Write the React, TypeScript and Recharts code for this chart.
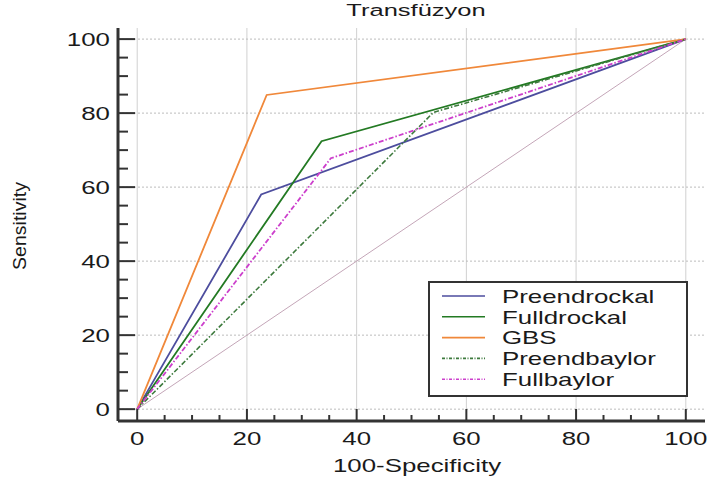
import React from 'react';
import { LineChart, Line, XAxis, YAxis, ReferenceLine } from 'recharts';

// ROC curves: x = 100-Specificity, y = Sensitivity
const seriesNames = ['Preendrockal', 'Fulldrockal', 'GBS', 'Preendbaylor', 'Fullbaylor'];
const preendrockalX = [0, 22.6, 100];
const preendrockalY = [0, 58, 100];
const fulldrockalX = [0, 33.6, 100];
const fulldrockalY = [0, 72.4, 100];
const gbsX = [0, 23.6, 100];
const gbsY = [0, 84.9, 100];
const preendbaylorX = [0, 54, 100];
const preendbaylorY = [0, 80.2, 100];
const fullbaylorX = [0, 35.3, 100];
const fullbaylorY = [0, 67.8, 100];
const diagonalX = [0, 100];
const diagonalY = [0, 100];

const axisTicks = [0, 5, 10, 15, 20, 25, 30, 35, 40, 45, 50, 55, 60, 65, 70, 75, 80, 85, 90, 95, 100];
const gridValues = [0, 20, 40, 60, 80, 100];

const toPoints = (xs: number[], ys: number[]) => xs.map((x, i) => ({ x, y: ys[i] }));

const SERIES = [
  { name: seriesNames[0], data: toPoints(preendrockalX, preendrockalY), color: '#4d4d9e', dash: undefined, width: 1.8 },
  { name: seriesNames[1], data: toPoints(fulldrockalX, fulldrockalY), color: '#237a23', dash: undefined, width: 1.8 },
  { name: seriesNames[2], data: toPoints(gbsX, gbsY), color: '#f0883a', dash: undefined, width: 1.8 },
  { name: seriesNames[3], data: toPoints(preendbaylorX, preendbaylorY), color: '#3d7a3d', dash: '5 2 1.5 2', width: 1.6 },
  { name: seriesNames[4], data: toPoints(fullbaylorX, fullbaylorY), color: '#cc3fcc', dash: '5 2 1.5 2', width: 1.8 },
];

const FONT = '"Liberation Sans", Arial, sans-serif';
const STRETCH = 1.39;

const XTick = (props: any) => {
  const { x, y, payload } = props;
  const major = payload.value % 20 === 0;
  return (
    <g>
      <line x1={x} x2={x} y1={y} y2={y - (major ? 12 : 6)} stroke="#333" strokeWidth={2} />
      {major && (
        <text
          transform={`translate(${x},${y + 24}) scale(${STRETCH},1)`}
          textAnchor="middle"
          fontFamily={FONT}
          fontSize={18.6}
          fill="#1a1a1a"
        >
          {payload.value}
        </text>
      )}
    </g>
  );
};

const YTick = (props: any) => {
  const { x, y, payload } = props;
  const major = payload.value % 20 === 0;
  return (
    <g>
      <line x1={x} x2={x + (major ? 17 : 10)} y1={y} y2={y} stroke="#333" strokeWidth={2} />
      {major && (
        <text
          transform={`translate(${x - 8},${y + 6.6}) scale(${STRETCH},1)`}
          textAnchor="end"
          fontFamily={FONT}
          fontSize={18.6}
          fill="#1a1a1a"
        >
          {payload.value}
        </text>
      )}
    </g>
  );
};

export default function App() {
  return (
    <div style={{ position: 'absolute', left: 0, top: 0, width: 711, height: 484, background: '#fff' }}>
      <LineChart width={711} height={484} margin={{ top: 28, right: 6, bottom: 0, left: 0 }}>
        <XAxis
          type="number"
          dataKey="x"
          domain={[-3.5, 103.5]}
          allowDataOverflow
          ticks={axisTicks}
          interval={0}
          height={63}
          tickSize={0}
          tickMargin={0}
          tickLine={false}
          tick={<XTick />}
          axisLine={{ stroke: '#333', strokeWidth: 3 }}
        />
        <YAxis
          type="number"
          dataKey="y"
          domain={[-3.2, 103]}
          allowDataOverflow
          ticks={axisTicks}
          interval={0}
          width={118}
          tickSize={0}
          tickMargin={0}
          tickLine={false}
          tick={<YTick />}
          axisLine={{ stroke: '#333', strokeWidth: 3 }}
        />
        {gridValues.map(v => (
          <ReferenceLine key={`gx${v}`} x={v} stroke="#d0d0d0" strokeWidth={1} />
        ))}
        {gridValues.map(v => (
          <ReferenceLine key={`gy${v}`} y={v} stroke="#bdbdbd" strokeWidth={1} strokeDasharray="2 2" />
        ))}
        <Line
          data={toPoints(diagonalX, diagonalY)}
          dataKey="y"
          stroke="#c4a6b8"
          strokeWidth={1}
          dot={false}
          activeDot={false}
          legendType="none"
          isAnimationActive={false}
        />
        {SERIES.map(s => (
          <Line
            key={s.name}
            name={s.name}
            data={s.data}
            dataKey="y"
            stroke={s.color}
            strokeWidth={s.width}
            strokeDasharray={s.dash}
            dot={false}
            activeDot={false}
            isAnimationActive={false}
          />
        ))}
      </LineChart>
      <svg
        width={711}
        height={484}
        style={{ position: 'absolute', left: 0, top: 0, pointerEvents: 'none' }}
      >
        <text
          transform={`translate(416,16) scale(1.5,1)`}
          textAnchor="middle"
          fontFamily={FONT}
          fontSize={17}
          fill="#1a1a1a"
        >
          Transfüzyon
        </text>
        <text
          transform={`translate(417,472) scale(${STRETCH},1)`}
          textAnchor="middle"
          fontFamily={FONT}
          fontSize={18.6}
          fill="#1a1a1a"
        >
          100-Specificity
        </text>
        <text
          transform="translate(26,226) rotate(-90) scale(1,0.9)"
          textAnchor="middle"
          fontFamily={FONT}
          fontSize={19.5}
          fill="#1a1a1a"
        >
          Sensitivity
        </text>
        <g transform="translate(429,282)">
          <rect x={0} y={0} width={258} height={114} fill="#fff" stroke="#333" strokeWidth={2} />
          {SERIES.map((s, i) => (
            <g key={s.name}>
              <line
                x1={13}
                x2={56}
                y1={14 + i * 20.8}
                y2={14 + i * 20.8}
                stroke={s.color}
                strokeWidth={1.6}
                strokeDasharray={s.dash ? '3 1.5 1 1.5' : undefined}
              />
              <text
                transform={`translate(73,${20.7 + i * 20.8}) scale(${STRETCH},1)`}
                fontFamily={FONT}
                fontSize={18.6}
                fill="#1a1a1a"
              >
                {s.name}
              </text>
            </g>
          ))}
        </g>
      </svg>
    </div>
  );
}
